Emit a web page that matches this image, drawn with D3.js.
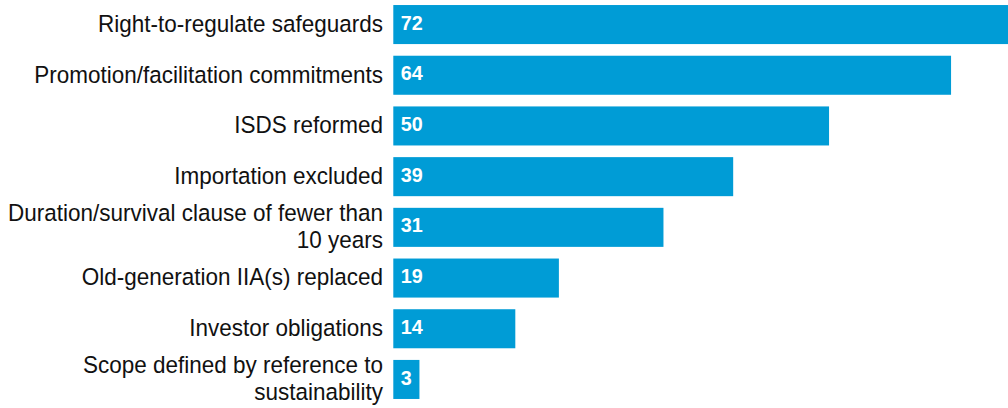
<!DOCTYPE html>
<html>
<head>
<meta charset="utf-8">
<script src="https://cdn.jsdelivr.net/npm/d3@7"></script>
<style>
  html, body { margin: 0; padding: 0; background: #ffffff; overflow: hidden; }
  svg { display: block; }
  .cat { font-family: "Liberation Sans", Arial, sans-serif; font-size: 23.5px; fill: #111111; }
  .val { font-family: "Liberation Sans", Arial, sans-serif; font-size: 21px; font-weight: bold; fill: #ffffff; }
</style>
</head>
<body>
<svg id="chart" width="1008" height="408"></svg>
<script>
// Treaty features and number of agreements containing each
const categories = [
  "Right-to-regulate safeguards",
  "Promotion/facilitation commitments",
  "ISDS reformed",
  "Importation excluded",
  "Duration/survival clause of fewer than 10 years",
  "Old-generation IIA(s) replaced",
  "Investor obligations",
  "Scope defined by reference to sustainability"
];
const values = [72, 64, 50, 39, 31, 19, 14, 3];

const barLeft = 393.3;
const labelRight = 383;
const wrapWidth = 380;
const labelSqueeze = 0.957;   // slight horizontal condensing of the label face
const valueSqueeze = 0.94;
const lineHeight = 26.4;

const svg = d3.select("#chart");

const x = d3.scaleLinear()
  .domain([0, 72])
  .range([barLeft, barLeft + 72 * 8.715]);

const y = d3.scaleBand()
  .domain(categories)
  .range([-0.8, 404.8])
  .paddingInner(0.23)
  .paddingOuter(0.115);

const rows = svg.selectAll("g.row")
  .data(categories.map((c, i) => ({ cat: c, value: values[i] })))
  .join("g")
  .attr("class", "row");

rows.append("rect")
  .attr("x", x(0))
  .attr("y", d => y(d.cat))
  .attr("width", d => x(d.value) - x(0))
  .attr("height", y.bandwidth())
  .attr("fill", "#009cd6");

// Value inside the start of each bar
rows.append("text")
  .attr("class", "val")
  .attr("transform", d => `translate(${x(0) + 7.5},${y(d.cat) + y.bandwidth() / 2}) scale(${valueSqueeze},1)`)
  .attr("dy", "0.24em")
  .text(d => d.value);

// Category labels, wrapped to a fixed width and centred on each bar
const labels = rows.append("text")
  .attr("class", "cat")
  .attr("text-anchor", "end")
  .attr("transform", `translate(${labelRight},0) scale(${labelSqueeze},1)`);

labels.each(function (d) {
  const t = d3.select(this);
  const words = d.cat.split(" ");
  const lines = [];
  let line = [];
  const probe = t.append("tspan");
  words.forEach(w => {
    const trial = line.concat(w).join(" ");
    probe.text(trial);
    if (line.length && probe.node().getComputedTextLength() * labelSqueeze > wrapWidth) {
      lines.push(line.join(" "));
      line = [w];
    } else {
      line.push(w);
    }
  });
  lines.push(line.join(" "));
  probe.remove();
  const cy = y(d.cat) + y.bandwidth() / 2;
  const baseMid = cy + (lines.length > 1 ? 7 : 7.3);
  const first = baseMid - (lines.length - 1) * lineHeight / 2;
  lines.forEach((l, i) => {
    t.append("tspan")
      .attr("x", 0)
      .attr("y", first + i * lineHeight)
      .text(l);
  });
});
</script>
</body>
</html>
